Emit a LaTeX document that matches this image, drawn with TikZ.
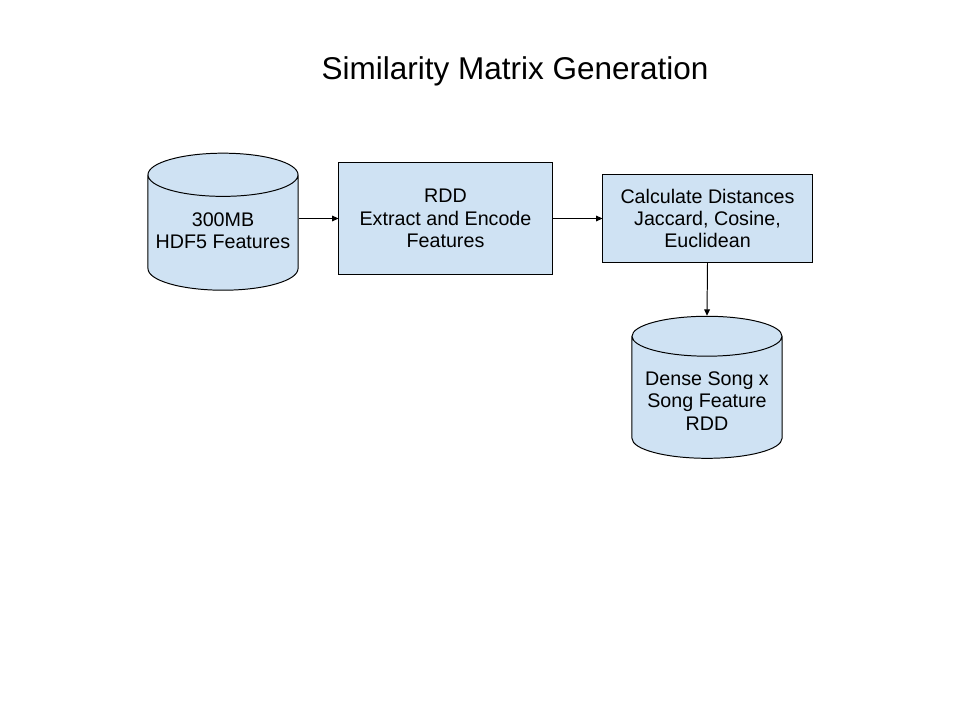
\documentclass[tikz,border=0pt]{standalone}
\usepackage{fontspec}
\setmainfont{Liberation Sans}
\usetikzlibrary{arrows.meta,shapes.geometric,positioning}
\definecolor{boxblue}{HTML}{CFE2F3}

\begin{document}
\begin{tikzpicture}[x=0.025cm, y=-0.025cm,
    every node/.style={font=\fontsize{14}{15.8}\selectfont},
    stepbox/.style={draw, fill=boxblue, line width=0.7pt, align=center},
    store/.style={draw, fill=boxblue, line width=0.7pt, align=center, cylinder, shape border rotate=90, aspect=0.3},
    link/.style={-{Triangle[length=4.5pt, width=4pt]}, line width=0.7pt}]
    \useasboundingbox (0,0) rectangle (960,720);

    % Title
    \node[font=\fontsize{22.4}{26}\selectfont] (title) at (515,71) {Similarity Matrix Generation};

    % Input store
    \node[store, minimum width=3.75cm, minimum height=3.425cm] (feat) at (223,236.5) {300MB\\HDF5 Features\rule[-8.4pt]{0pt}{8.4pt}};

    % Extract step
    \node[stepbox, minimum width=5.325cm, minimum height=2.775cm] (enc) at (445.5,218.5) {RDD\\Extract and Encode\\Features};

    % Distances step
    \node[stepbox, minimum width=5.225cm, minimum height=2.2cm] (dist) at (707.5,218.5) {Calculate Distances\\Jaccard, Cosine,\\Euclidean};

    % Output store
    \node[store, minimum width=3.75cm, minimum height=3.55cm] (out) at (707,401) {Dense Song x\\Song Feature\\RDD};

    % Arrows
    \draw[link] (feat.east |- enc.west) -- (enc.west);
    \draw[link] (enc.east) -- (dist.west);
    \draw[link] (dist.south) -- (out.top);

\end{tikzpicture}
\end{document}
